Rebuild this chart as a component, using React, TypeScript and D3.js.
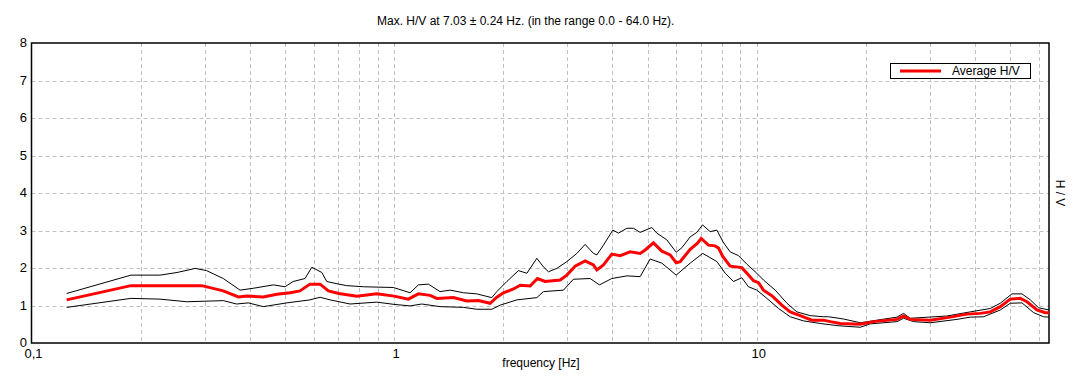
import React from "react";
import * as d3 from "d3";

// H/V spectral ratio readings: [frequency Hz, H/V]
const averageHV: [number, number][] = [
  [0.125, 1.15], [0.188, 1.53], [0.295, 1.53], [0.338, 1.39], [0.372, 1.23],
  [0.393, 1.25], [0.436, 1.23], [0.475, 1.3], [0.517, 1.34], [0.55, 1.39],
  [0.586, 1.57], [0.625, 1.57], [0.659, 1.39], [0.704, 1.32], [0.789, 1.25],
  [0.896, 1.31], [1.0, 1.25], [1.095, 1.17], [1.167, 1.31], [1.257, 1.27],
  [1.312, 1.19], [1.457, 1.21], [1.588, 1.12], [1.708, 1.13], [1.84, 1.06],
  [1.92, 1.22], [2.002, 1.34], [2.134, 1.44], [2.227, 1.54], [2.373, 1.52],
  [2.485, 1.72], [2.609, 1.64], [2.871, 1.68], [2.995, 1.81], [3.157, 2.05],
  [3.364, 2.19], [3.546, 2.08], [3.624, 1.95], [3.779, 2.08], [3.986, 2.37],
  [4.201, 2.33], [4.477, 2.43], [4.771, 2.39], [4.925, 2.48], [5.192, 2.67],
  [5.476, 2.45], [5.773, 2.35], [5.997, 2.14], [6.152, 2.17], [6.556, 2.5],
  [6.867, 2.66], [7.03, 2.79], [7.36, 2.61], [7.68, 2.59], [7.85, 2.53],
  [8.07, 2.3], [8.45, 2.05], [9.1, 2.01], [9.4, 1.86], [9.8, 1.66],
  [10.12, 1.61], [10.44, 1.41], [11.01, 1.26], [11.73, 1.01], [12.37, 0.83],
  [13.18, 0.73], [14.2, 0.61], [15.29, 0.61], [15.95, 0.57], [17.0, 0.52],
  [19.3, 0.5], [21.0, 0.57], [24.37, 0.63], [25.41, 0.72], [26.51, 0.63],
  [30.1, 0.61], [34.18, 0.69], [38.01, 0.77], [41.37, 0.79], [44.07, 0.83],
  [46.96, 0.97], [50.04, 1.17], [53.33, 1.19], [55.65, 1.1], [59.29, 0.88],
  [62.5, 0.81], [64, 0.81],
];

const upperHV: [number, number][] = [
  [0.125, 1.32], [0.188, 1.81], [0.226, 1.81], [0.252, 1.88], [0.283, 1.99],
  [0.304, 1.93], [0.338, 1.72], [0.376, 1.41], [0.409, 1.46], [0.465, 1.55],
  [0.5, 1.5], [0.527, 1.64], [0.568, 1.72], [0.593, 2.02], [0.632, 1.88],
  [0.652, 1.64], [0.704, 1.57], [0.74, 1.53], [0.823, 1.5], [0.996, 1.48],
  [1.107, 1.34], [1.167, 1.55], [1.243, 1.57], [1.339, 1.37], [1.427, 1.41],
  [1.554, 1.34], [1.691, 1.31], [1.86, 1.21], [1.92, 1.37], [2.046, 1.64],
  [2.203, 1.93], [2.324, 1.86], [2.476, 2.26], [2.581, 2.03], [2.665, 1.9],
  [2.811, 1.99], [2.995, 2.17], [3.192, 2.39], [3.364, 2.63], [3.546, 2.39],
  [3.624, 2.35], [3.779, 2.61], [4.011, 3.01], [4.157, 2.93], [4.384, 3.06],
  [4.572, 3.06], [4.771, 2.95], [5.139, 3.08], [5.305, 2.93], [5.653, 2.75],
  [5.997, 2.42], [6.219, 2.54], [6.556, 2.83], [6.84, 2.95], [7.09, 3.15],
  [7.44, 2.97], [7.77, 3.01], [8.07, 2.7], [8.45, 2.43], [8.91, 2.33],
  [9.4, 2.1], [10.01, 1.86], [10.44, 1.68], [11.25, 1.41], [12.12, 1.06],
  [12.91, 0.83], [14.05, 0.73], [15.29, 0.7], [15.78, 0.7], [17.36, 0.64],
  [19.3, 0.54], [24.37, 0.69], [25.41, 0.79], [26.51, 0.66], [33.47, 0.72],
  [38.82, 0.83], [44.07, 0.92], [46.96, 1.06], [50.58, 1.31], [53.91, 1.31],
  [56.83, 1.15], [59.9, 0.94], [64, 0.88],
];

const lowerHV: [number, number][] = [
  [0.125, 0.95], [0.188, 1.19], [0.226, 1.17], [0.268, 1.1], [0.338, 1.13],
  [0.368, 1.04], [0.396, 1.07], [0.436, 0.97], [0.506, 1.07], [0.586, 1.15],
  [0.625, 1.22], [0.666, 1.15], [0.756, 1.04], [0.896, 1.09], [1.0, 1.03],
  [1.107, 0.99], [1.192, 1.04], [1.339, 0.97], [1.554, 0.95], [1.691, 0.9],
  [1.86, 0.9], [1.961, 1.01], [2.181, 1.15], [2.476, 1.21], [2.581, 1.37],
  [2.931, 1.41], [3.123, 1.7], [3.473, 1.72], [3.684, 1.55], [3.986, 1.72],
  [4.384, 1.79], [4.771, 1.77], [5.084, 2.24], [5.476, 2.13], [5.997, 1.81],
  [6.556, 2.13], [7.1, 2.39], [7.77, 2.17], [8.19, 1.86], [8.63, 1.64],
  [9.1, 1.74], [9.49, 1.5], [10.01, 1.41], [10.67, 1.19], [11.49, 0.92],
  [12.37, 0.7], [13.46, 0.59], [14.97, 0.52], [16.82, 0.46], [19.3, 0.42],
  [20.56, 0.51], [24.37, 0.57], [25.41, 0.66], [27.08, 0.57], [30.1, 0.54],
  [35.67, 0.63], [38.82, 0.69], [42.24, 0.7], [46.96, 0.88], [50.04, 1.06],
  [53.91, 1.07], [58.03, 0.81], [61.83, 0.7], [64, 0.69],
];

const yTicks = [0, 1, 2, 3, 4, 5, 6, 7, 8];
const xLabels: [number, string][] = [[0.1, "0,1"], [1, "1"], [10, "10"]];
const titleText = "Max. H/V at 7.03 ± 0.24 Hz. (in the range 0.0 - 64.0 Hz).";
const legendLabel = "Average H/V";

export default function App() {
  const width = 1081;
  const height = 387;
  const left = 31.5;
  const right = 1049;
  const top = 43;
  const bottom = 343;
  const font = "'Liberation Sans', Arial, sans-serif";

  const x = d3.scaleLog().domain([0.1, 64]).range([left, right]);
  const y = d3.scaleLinear().domain([0, 8]).range([bottom, top]);

  const line = d3
    .line<[number, number]>()
    .x((d) => x(d[0]))
    .y((d) => y(d[1]));

  // minor log grid: 0.2..0.9, 2..9, 20..60
  const gridX: number[] = [];
  [0.1, 1, 10].forEach((dec) => {
    for (let k = 1; k <= 9; k++) {
      const v = dec * k;
      if (v > 0.1 && v < 64) gridX.push(v);
    }
  });

  return (
    <svg
      width={width}
      height={height}
      style={{ position: "absolute", left: 0, top: 0, background: "#fff" }}
      fontFamily={font}
      fontSize={12}
    >
      <rect width={width} height={height} fill="#fff" />
      <text x={377} y={25} fill="#000">{titleText}</text>

      <g stroke="#c0c0c0" strokeDasharray="4,3" strokeWidth={1}>
        {gridX.map((v) => (
          <line key={"gx" + v} x1={Math.round(x(v)) + 0.5} x2={Math.round(x(v)) + 0.5} y1={top} y2={bottom} />
        ))}
        {yTicks.slice(1, -1).map((v) => (
          <line key={"gy" + v} x1={left} x2={right} y1={Math.round(y(v)) + 0.5} y2={Math.round(y(v)) + 0.5} />
        ))}
      </g>

      <rect
        x={left}
        y={top}
        width={right - left}
        height={bottom - top}
        fill="none"
        stroke="#000"
        strokeWidth={1.5}
      />

      {yTicks.map((v) => (
        <text key={"yt" + v} x={27} y={y(v) + 4} textAnchor="end" fontSize={13}>
          {v}
        </text>
      ))}
      {xLabels.map(([v, s]) => (
        <text key={"xt" + v} x={x(v) + 2} y={358} textAnchor="middle" fontSize={13}>
          {s}
        </text>
      ))}
      <text x={541} y={367} textAnchor="middle">frequency [Hz]</text>
      <text transform={`translate(1056,193) rotate(90)`} textAnchor="middle">H / V</text>

      <g fill="none">
        <path d={line(upperHV) ?? ""} stroke="#000" strokeWidth={1} />
        <path d={line(lowerHV) ?? ""} stroke="#000" strokeWidth={1} />
        <path d={line(averageHV) ?? ""} stroke="#ff0000" strokeWidth={3} />
      </g>

      <g>
        <rect x={890.5} y={63.5} width={140} height={15} fill="#fff" stroke="#000" strokeWidth={1} />
        <line x1={900} x2={941} y1={71} y2={71} stroke="#ff0000" strokeWidth={3} />
        <text x={952} y={75}>{legendLabel}</text>
      </g>
    </svg>
  );
}
